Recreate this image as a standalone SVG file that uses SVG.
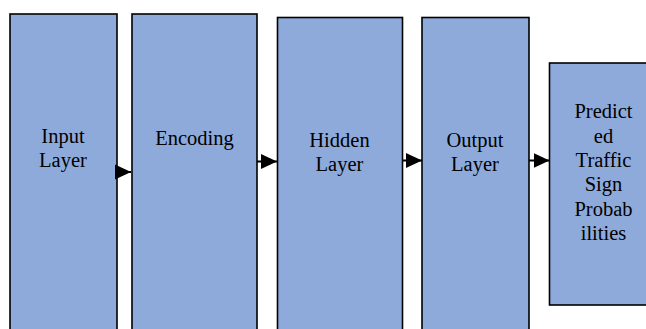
<svg xmlns="http://www.w3.org/2000/svg" width="646" height="329" viewBox="0 0 646 329">
  <defs>
    <style>
      .box { fill: #8EAADB; stroke: #000; stroke-width: 1.6; }
      .conn { stroke: #000; stroke-width: 2; fill: none; marker-end: url(#head); }
    </style>
    <marker id="head" markerUnits="userSpaceOnUse" markerWidth="16" markerHeight="16" viewBox="0 0 15 14" refX="15" refY="7" orient="auto">
      <path d="M0,0 L15,7 L0,14 Z" fill="#000"/>
    </marker>
  </defs>

  <rect width="646" height="329" fill="#fff"/>

  <g id="input-layer">
    <rect class="box" x="10" y="14" width="107" height="330"/>
    <text x="63" y="143" font-family="Liberation Serif" font-size="20.5" text-anchor="middle">Input</text>
    <text x="63" y="167" font-family="Liberation Serif" font-size="20.5" text-anchor="middle">Layer</text>
  </g>

  <g id="encoding">
    <rect class="box" x="132" y="14" width="125" height="330"/>
    <text x="194.5" y="145" font-family="Liberation Serif" font-size="20.5" text-anchor="middle">Encoding</text>
  </g>

  <g id="hidden-layer">
    <rect class="box" x="277.5" y="17.5" width="125" height="330"/>
    <text x="339.5" y="147" font-family="Liberation Serif" font-size="20.5" text-anchor="middle">Hidden</text>
    <text x="339.5" y="171" font-family="Liberation Serif" font-size="20.5" text-anchor="middle">Layer</text>
  </g>

  <g id="output-layer">
    <rect class="box" x="422" y="17.5" width="107" height="330"/>
    <text x="475" y="147" font-family="Liberation Serif" font-size="20.5" text-anchor="middle">Output</text>
    <text x="475" y="171" font-family="Liberation Serif" font-size="20.5" text-anchor="middle">Layer</text>
  </g>

  <g id="predicted-probabilities">
    <rect class="box" x="549.5" y="63" width="110" height="242"/>
    <text x="603.5" y="118.3" font-family="Liberation Serif" font-size="20.5" text-anchor="middle">Predict</text>
    <text x="603.5" y="142.6" font-family="Liberation Serif" font-size="20.5" text-anchor="middle">ed</text>
    <text x="603.5" y="167" font-family="Liberation Serif" font-size="20.5" text-anchor="middle">Traffic</text>
    <text x="603.5" y="191.3" font-family="Liberation Serif" font-size="20.5" text-anchor="middle">Sign</text>
    <text x="603.5" y="215.7" font-family="Liberation Serif" font-size="20.5" text-anchor="middle">Probab</text>
    <text x="603.5" y="240" font-family="Liberation Serif" font-size="20.5" text-anchor="middle">ilities</text>
  </g>

  <g id="connectors">
    <line class="conn" x1="116" y1="172" x2="131" y2="172"/>
    <line class="conn" x1="257" y1="161.5" x2="277" y2="161.5"/>
    <line class="conn" x1="402.5" y1="160.5" x2="422" y2="160.5"/>
    <line class="conn" x1="529" y1="160.5" x2="549.5" y2="160.5"/>
  </g>
</svg>
